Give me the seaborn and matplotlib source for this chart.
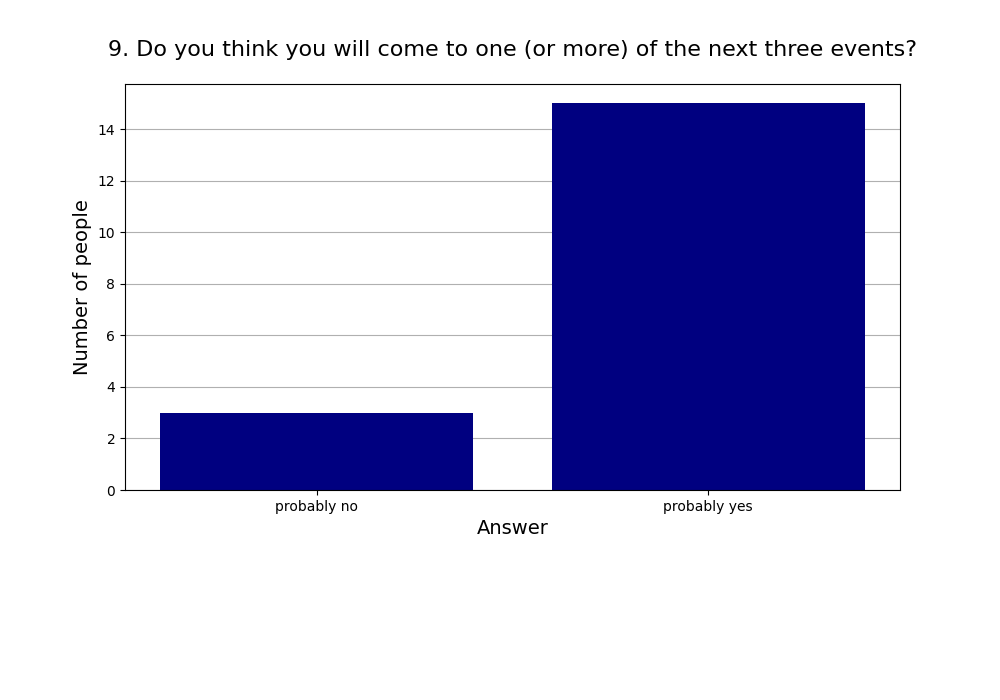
import matplotlib
matplotlib.use("Agg")
import matplotlib.pyplot as plt
import seaborn as sns
import pandas as pd

answers = ["probably no", "probably yes"]
counts = [3, 15]

df = pd.DataFrame({"Answer": answers, "Number of people": counts})

fig = plt.figure(figsize=(10, 7), dpi=100)
ax = fig.add_axes([0.125, 0.3, 0.775, 0.58])
ax.set_axisbelow(True)
ax.yaxis.grid(True, color="#b0b0b0", linewidth=0.8)
sns.barplot(data=df, x="Answer", y="Number of people", color="navy",
            saturation=1, width=0.8, ax=ax, edgecolor="none")
ax.set_xlim(-0.49, 1.49)
ax.set_ylim(0, 15.75)
ax.set_title("9. Do you think you will come to one (or more) of the next three events?",
             fontsize=16, pad=20)
ax.set_xlabel("Answer", fontsize=14)
ax.set_ylabel("Number of people", fontsize=14)
fig.savefig("out.png", dpi=100)
